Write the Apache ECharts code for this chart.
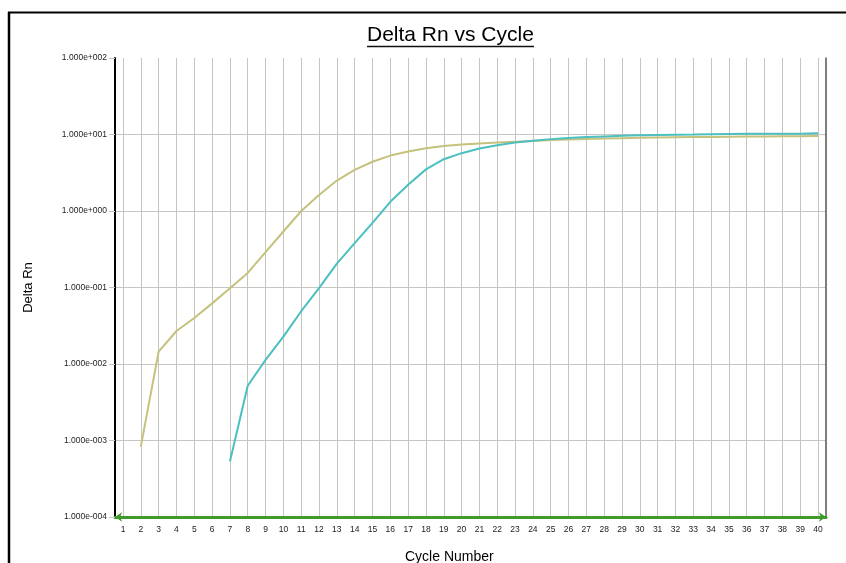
<!DOCTYPE html>
<html>
<head>
<meta charset="utf-8">
<script src="https://cdn.jsdelivr.net/npm/echarts@6/dist/echarts.min.js"></script>
<style>
html,body{margin:0;padding:0;background:#fff;}
#chart{width:846px;height:563px;}
</style>
</head>
<body>
<div id="chart"></div>
<script>
// ---- Data ----
const cycles = [1,2,3,4,5,6,7,8,9,10,11,12,13,14,15,16,17,18,19,20,21,22,23,24,25,26,27,28,29,30,31,32,33,34,35,36,37,38,39,40];
const sampleA = [null,0.00083,0.0145,0.027,0.040,0.062,0.098,0.155,0.29,0.54,1.0,1.62,2.5,3.45,4.4,5.3,6.0,6.6,7.05,7.4,7.65,7.85,8.05,8.25,8.45,8.6,8.75,8.85,8.95,9.05,9.15,9.2,9.25,9.3,9.35,9.4,9.45,9.5,9.5,9.55];
const sampleB = [null,null,null,null,null,null,0.00053,0.0052,0.0113,0.0228,0.049,0.098,0.205,0.38,0.70,1.32,2.2,3.5,4.75,5.7,6.55,7.25,7.85,8.3,8.7,9.0,9.25,9.45,9.6,9.75,9.85,9.95,10.0,10.1,10.15,10.2,10.2,10.25,10.25,10.35];
const yTickLabels = ['1.000e-004','1.000e-003','1.000e-002','1.000e-001','1.000e+000','1.000e+001','1.000e+002'];
const titleText = 'Delta Rn vs Cycle';
const xName = 'Cycle Number';
const yName = 'Delta Rn';

const FONT = 'Liberation Sans, Arial, sans-serif';
const GRIDC = '#c6c6c0';

function pairs(vals){
  const out = [];
  cycles.forEach((c,i)=>{ if (vals[i] != null) out.push([c, vals[i]]); });
  return out;
}

const chart = echarts.init(document.getElementById('chart'), null, {renderer:'canvas'});
chart.setOption({
  animation: false,
  backgroundColor: '#fff',
  title: {
    text: titleText,
    left: 367, top: 25, padding: 0,
    textStyle: {fontFamily: FONT, fontSize: 21, fontWeight: 'normal', color: '#000'}
  },
  graphic: [
    {type:'line', shape:{x1:8, y1:12.5, x2:846, y2:12.5}, style:{stroke:'#000', lineWidth:2}},
    {type:'line', shape:{x1:9, y1:12, x2:9, y2:563}, style:{stroke:'#000', lineWidth:2.5}},
    {type:'line', shape:{x1:367, y1:46.5, x2:534, y2:46.5}, style:{stroke:'#111', lineWidth:1.5}},
    {type:'text', left: 405, top: 550, style:{text: xName, font: '14px ' + FONT, fill:'#000'}}
  ],
  grid: [
    {left:115, right:20, top:58, bottom:46, containLabel:false},
    {left:123, right:28, top:58, bottom:46, containLabel:false}
  ],
  xAxis: [
    {
      gridIndex:0, type:'value', min:0, max:1,
      axisLine:{show:true, onZero:false, symbol:['arrow','arrow'], symbolSize:[7,7], lineStyle:{color:'#3f9a2c', width:3}},
      axisTick:{show:false}, axisLabel:{show:false}, splitLine:{show:false}
    },
    {
      gridIndex:1, type:'value', min:1, max:40, interval:1,
      axisLine:{show:false}, axisTick:{show:false},
      axisLabel:{fontFamily:FONT, fontSize:8.5, color:'#222', margin:8},
      splitLine:{show:true, lineStyle:{color:GRIDC, width:1}}
    }
  ],
  yAxis: [
    {
      gridIndex:0, type:'log', logBase:10, min:0.0001, max:100, splitNumber:6,
      name: yName, nameLocation:'middle', nameRotate:90, nameGap:80,
      nameTextStyle:{fontFamily:FONT, fontSize:13, color:'#000'},
      axisLine:{show:true, lineStyle:{color:'#000', width:2}},
      axisTick:{show:true, length:6, lineStyle:{color:GRIDC}},
      axisLabel:{fontFamily:FONT, fontSize:8.5, color:'#222', margin:8,
        formatter: v => yTickLabels[Math.round(Math.log10(v)) + 4]},
      splitLine:{show:true, showMaxLine:false, lineStyle:{color:GRIDC, width:1}}
    },
    {
      gridIndex:0, type:'log', logBase:10, min:0.0001, max:100, position:'right',
      axisLine:{show:true, lineStyle:{color:'#555', width:1.5}},
      axisTick:{show:false}, axisLabel:{show:false}, splitLine:{show:false}
    },
    {
      gridIndex:1, type:'log', logBase:10, min:0.0001, max:100, show:false
    }
  ],
  series: [
    {
      type:'line', xAxisIndex:1, yAxisIndex:2, data: pairs(sampleA),
      showSymbol:false, symbol:'none', lineStyle:{color:'#c4c27d', width:2}, z:3
    },
    {
      type:'line', xAxisIndex:1, yAxisIndex:2, data: pairs(sampleB),
      showSymbol:false, symbol:'none', lineStyle:{color:'#4cbfc0', width:2}, z:4
    }
  ]
});
</script>
</body>
</html>
